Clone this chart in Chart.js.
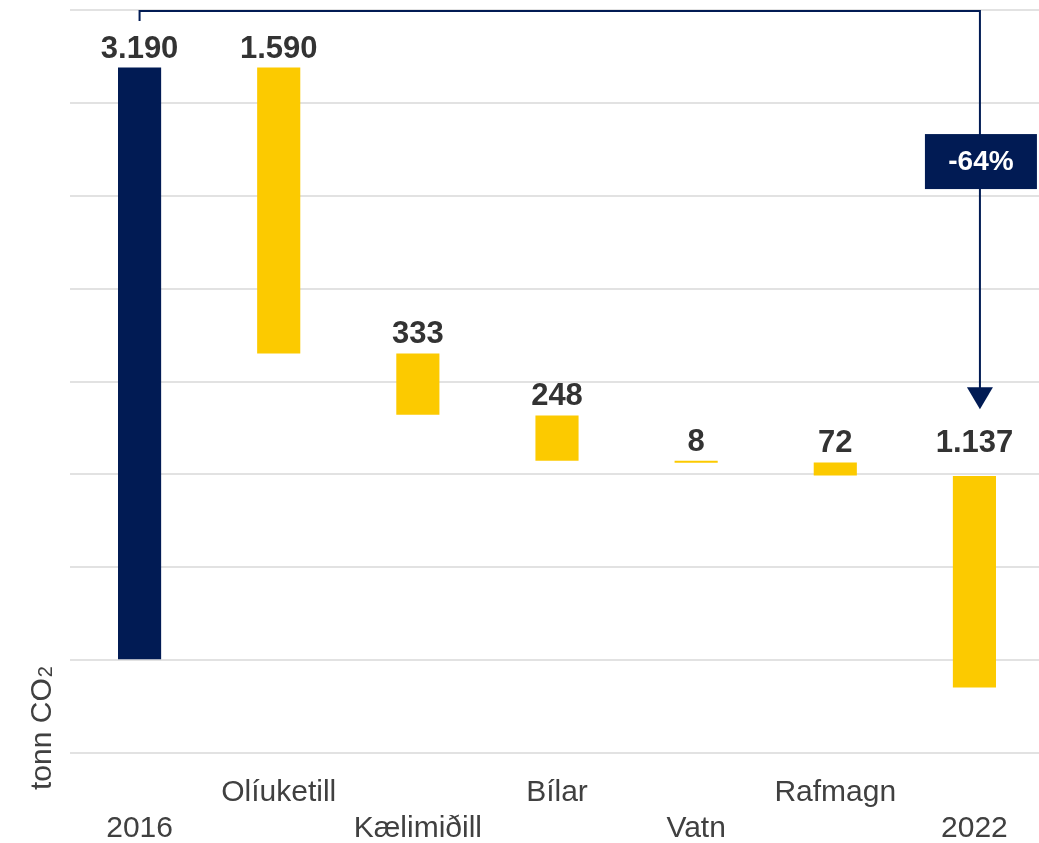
<!DOCTYPE html>
<html>
<head>
<meta charset="utf-8">
<style>
  html, body { margin: 0; padding: 0; background: #ffffff; overflow: hidden; }
  #wrap { width: 1044px; height: 843px; }
</style>
<script src="https://cdn.jsdelivr.net/npm/chart.js@4/dist/chart.umd.min.js"></script>
</head>
<body>
<div id="wrap"><canvas id="c" width="1044" height="843"></canvas></div>
<script>
// ---- data ----
const categories = ['2016', 'Olíuketill', 'Kælimiðill', 'Bílar', 'Vatn', 'Rafmagn', '2022'];
const barLow  = [0,    1651, 1321, 1073, 1062, 994,  -147];
const barHigh = [3190, 3190, 1651, 1317, 1073, 1064, 991];
const valueLabels = ['3.190', '1.590', '333', '248', '8', '72', '1.137'];
const changeLabel = '-64%';
const yTicks = { min: -500, max: 3500, step: 500 };

const NAVY = '#011b54';
const YELLOW = '#fcca00';
const barColors = categories.map((c, i) => i === 0 ? NAVY : YELLOW);

// staggered two-row category labels
const tickLabels = categories.map((c, i) => i % 2 === 0 ? ['', c] : [c, '']);

const overlayPlugin = {
  id: 'overlay',
  afterDatasetsDraw(chart) {
    const ctx = chart.ctx;
    const xs = chart.scales.x, ys = chart.scales.y;
    const n = categories.length;

    // value labels
    ctx.save();
    ctx.font = 'bold 31px "Liberation Sans", Arial, sans-serif';
    ctx.fillStyle = '#333333';
    ctx.textAlign = 'center';
    ctx.textBaseline = 'alphabetic';
    for (let i = 0; i < n; i++) {
      let anchor = Math.max(barLow[i], barHigh[i]);
      if (i === n - 1) anchor = Math.max(barLow[i - 1], barHigh[i - 1]);
      const x = xs.getPixelForValue(i);
      const y = ys.getPixelForValue(anchor) - 10;
      ctx.fillText(valueLabels[i], x, y);
    }
    ctx.restore();

    // bracket with arrow
    const xStart = xs.getPixelForValue(0);
    const xEnd = xs.getPixelForValue(n - 1) + 5.5;
    const yTop = ys.getPixelForValue(yTicks.max) + 1;
    const yTickEnd = yTop + 10;
    const yTip = ys.getPixelForValue(1350);
    const headH = 22, headW = 26;
    ctx.save();
    ctx.strokeStyle = NAVY;
    ctx.lineWidth = 2;
    ctx.beginPath();
    ctx.moveTo(xStart, yTickEnd);
    ctx.lineTo(xStart, yTop);
    ctx.lineTo(xEnd, yTop);
    ctx.lineTo(xEnd, yTip - headH + 1);
    ctx.stroke();
    ctx.fillStyle = NAVY;
    ctx.beginPath();
    ctx.moveTo(xEnd - headW / 2, yTip - headH);
    ctx.lineTo(xEnd + headW / 2, yTip - headH);
    ctx.lineTo(xEnd, yTip);
    ctx.closePath();
    ctx.fill();

    // change box
    const boxCY = ys.getPixelForValue(2684);
    const bw = 112, bh = 55;
    ctx.fillRect(xEnd + 1 - bw / 2, boxCY - bh / 2, bw, bh);
    ctx.fillStyle = '#ffffff';
    ctx.font = 'bold 28px "Liberation Sans", Arial, sans-serif';
    ctx.textAlign = 'center';
    ctx.textBaseline = 'middle';
    ctx.fillText(changeLabel, xEnd + 1, boxCY + 1);
    ctx.restore();

    // y axis title "tonn CO2" with subscript
    ctx.save();
    ctx.translate(51, 790);
    ctx.rotate(-Math.PI / 2);
    ctx.fillStyle = '#404040';
    ctx.textAlign = 'left';
    ctx.textBaseline = 'alphabetic';
    ctx.font = '30px "Liberation Sans", Arial, sans-serif';
    const main = 'tonn CO';
    ctx.fillText(main, 0, 0);
    const w = ctx.measureText(main).width;
    ctx.font = '20px "Liberation Sans", Arial, sans-serif';
    ctx.fillText('2', w + 1, 1);
    ctx.restore();
  }
};

new Chart(document.getElementById('c'), {
  type: 'bar',
  data: {
    labels: tickLabels,
    datasets: [{
      data: categories.map((c, i) => [barLow[i], barHigh[i]]),
      backgroundColor: barColors,
      borderWidth: 0,
      barPercentage: 0.31,
      categoryPercentage: 1.0
    }]
  },
  options: {
    responsive: false,
    animation: false,
    devicePixelRatio: 1,
    layout: { padding: { left: 70, top: 10, right: 0, bottom: 0 } },
    plugins: {
      legend: { display: false },
      tooltip: { enabled: false },
      title: { display: false }
    },
    scales: {
      x: {
        grid: { display: false, drawTicks: false },
        border: { display: false },
        afterFit(scale) { scale.height = 90; },
        ticks: {
          autoSkip: false,
          maxRotation: 0,
          minRotation: 0,
          padding: 22,
          color: '#404040',
          font: { family: '"Liberation Sans", Arial, sans-serif', size: 30, lineHeight: 1.2 }
        }
      },
      y: {
        min: yTicks.min,
        max: yTicks.max,
        grid: { color: '#e2e2e2', lineWidth: 2, drawTicks: false },
        border: { display: false },
        ticks: { display: false, stepSize: yTicks.step }
      }
    }
  },
  plugins: [overlayPlugin]
});
</script>
</body>
</html>
